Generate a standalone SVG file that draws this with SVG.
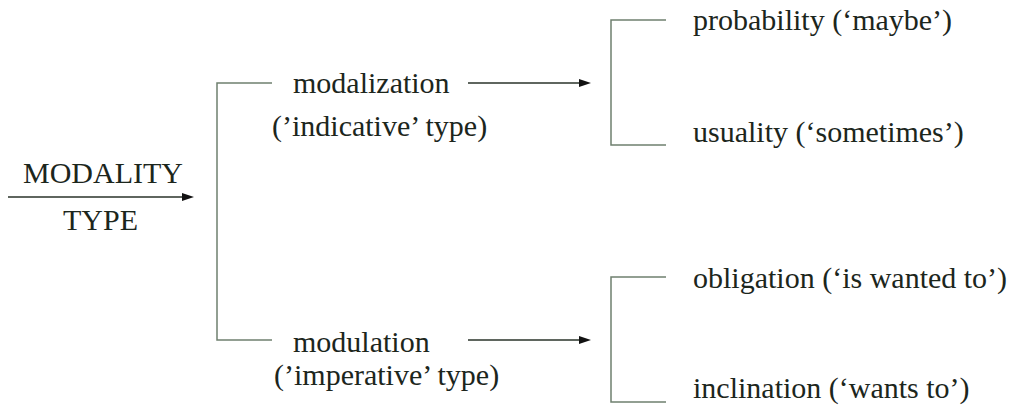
<svg xmlns="http://www.w3.org/2000/svg" width="1020" height="409" viewBox="0 0 1020 409">
<rect width="1020" height="409" fill="#fff"/>
<g id="connectors" stroke-width="1.5" fill="none">
<line stroke="#2a332a" x1="8" y1="197" x2="184" y2="197"/>
<polygon fill="#111" stroke="none" points="182,193 194,197 182,201"/>
<polyline stroke="#6f806f" points="272,83 217,83 217,340 272,340"/>
<line stroke="#2a332a" x1="468" y1="83" x2="581" y2="83"/>
<polygon fill="#111" stroke="none" points="579,79 591,83 579,87"/>
<line stroke="#2a332a" x1="468" y1="340" x2="581" y2="340"/>
<polygon fill="#111" stroke="none" points="579,336 591,340 579,344"/>
<polyline stroke="#6f806f" points="666,20 611,20 611,145 666,145"/>
<polyline stroke="#6f806f" points="666,277 611,277 611,402 666,402"/>
</g>
<g id="modality-type">
<text font-family="Liberation Serif" font-size="30" fill="#1c261c" x="23" y="183">MODALITY</text>
<text font-family="Liberation Serif" font-size="30" fill="#1c261c" x="63" y="230">TYPE</text>
</g>
<g id="modalization">
<text font-family="Liberation Serif" font-size="30" fill="#1c261c" x="293" y="93">modalization</text>
<text font-family="Liberation Serif" font-size="30" fill="#1c261c" x="272" y="136">(&#8217;indicative&#8217; type)</text>
</g>
<g id="modulation">
<text font-family="Liberation Serif" font-size="30" fill="#1c261c" x="293" y="352">modulation</text>
<text font-family="Liberation Serif" font-size="30" fill="#1c261c" x="274" y="385">(&#8217;imperative&#8217; type)</text>
</g>
<g id="probability"><text font-family="Liberation Serif" font-size="30" fill="#1c261c" x="693" y="30">probability (&#8216;maybe&#8217;)</text></g>
<g id="usuality"><text font-family="Liberation Serif" font-size="30" fill="#1c261c" x="693" y="142">usuality (&#8216;sometimes&#8217;)</text></g>
<g id="obligation"><text font-family="Liberation Serif" font-size="30" fill="#1c261c" x="693" y="288">obligation (&#8216;is wanted to&#8217;)</text></g>
<g id="inclination"><text font-family="Liberation Serif" font-size="30" fill="#1c261c" x="693" y="398">inclination (&#8216;wants to&#8217;)</text></g>
</svg>
